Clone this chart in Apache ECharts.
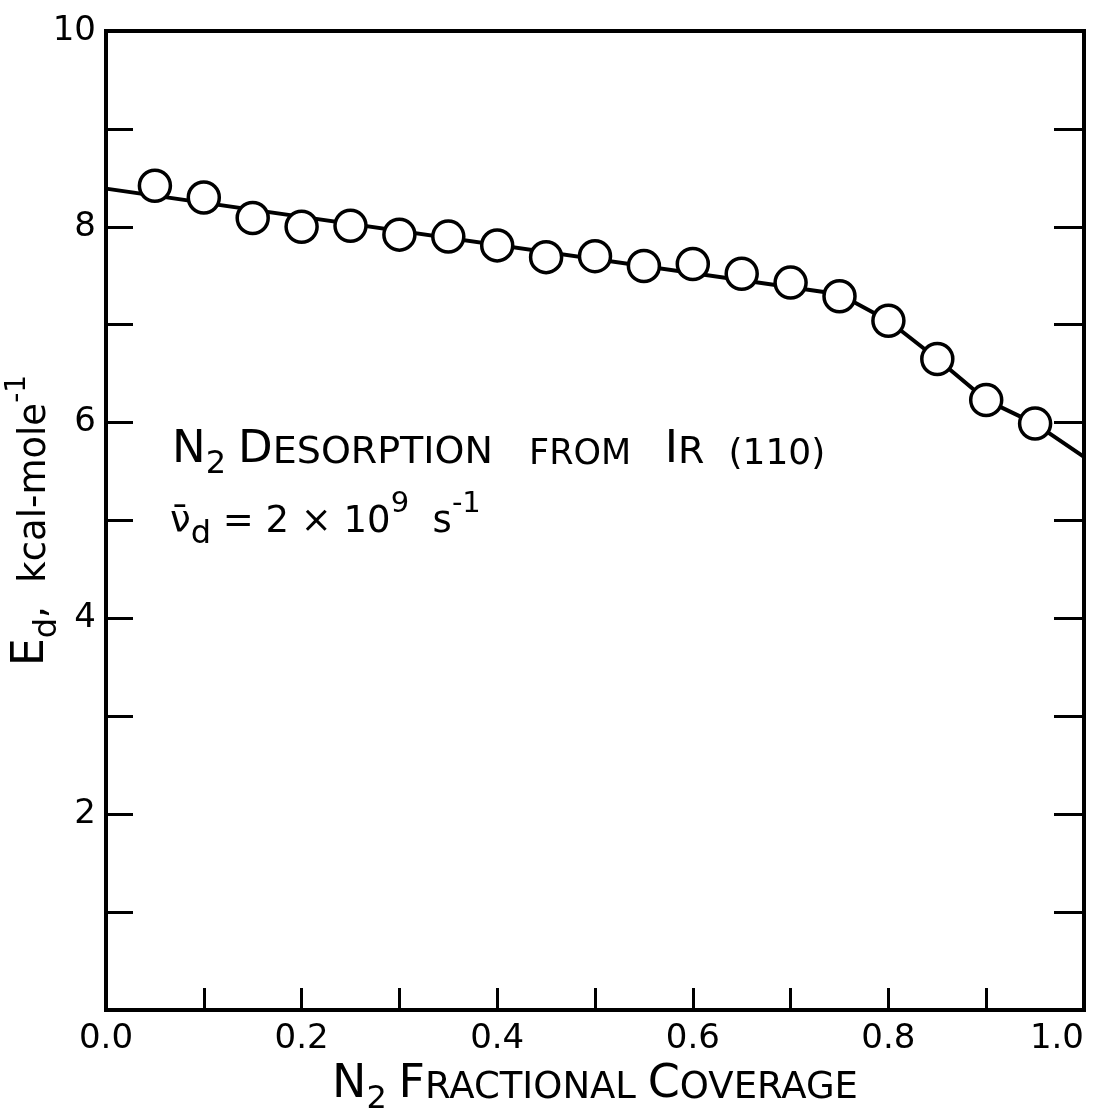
<!DOCTYPE html>
<html>
<head>
<meta charset="utf-8">
<script src="https://cdn.jsdelivr.net/npm/echarts@6/dist/echarts.min.js"></script>
<style>
  html, body { margin: 0; padding: 0; background: #fff; }
  #chart { width: 1102px; height: 1111px; }
</style>
</head>
<body>
<div id="chart"></div>
<script>
// measured points (N2 coverage vs desorption energy)
var coverage = [0.05, 0.10, 0.15, 0.20, 0.25, 0.30, 0.35, 0.40, 0.45, 0.50,
                0.55, 0.60, 0.65, 0.70, 0.75, 0.80, 0.85, 0.90, 0.95];
var energy = [8.42, 8.30, 8.09, 8.00, 8.01, 7.92, 7.90, 7.81, 7.69, 7.70,
              7.60, 7.62, 7.52, 7.43, 7.29, 7.04, 6.65, 6.23, 5.99];

// drawn curve through the data
var fitCoverage = [0, 0.75, 0.80, 0.85, 0.90, 0.95, 1.0];
var fitEnergy = [8.39, 7.31, 7.04, 6.65, 6.23, 5.99, 5.65];

var xTicks = ['0.0', '0.2', '0.4', '0.6', '0.8', '1.0'];
var yTicks = [2, 4, 6, 8, 10];

var font = 'DejaVu Sans';

function pairs(xs, ys) {
    return xs.map(function (x, i) { return [x, ys[i]]; });
}

function rs(size, padBottom) {
    return { fontSize: size, fontFamily: font, color: '#000', fill: '#000',
             verticalAlign: 'bottom', padding: [0, 0, padBottom || 0, 0] };
}

var option = {
    backgroundColor: '#fff',
    animation: false,
    grid: {
        left: 106, right: 18, top: 31, bottom: 101,
        outerBoundsMode: 'none',
        containLabel: false,
        show: true,
        borderColor: '#000',
        borderWidth: 4,
        backgroundColor: 'transparent'
    },
    xAxis: {
        type: 'value',
        min: 0, max: 1, interval: 0.1,
        axisLine: { show: false },
        splitLine: { show: false },
        axisTick: { inside: true, length: 22, lineStyle: { color: '#000', width: 3 } },
        axisLabel: {
            color: '#000', fontSize: 34, fontFamily: font, margin: 12,
            alignMaxLabel: 'right',
            formatter: function (v) {
                var s = v.toFixed(1);
                return xTicks.indexOf(s) >= 0 ? s : '';
            }
        },
        name: '{b|N}{sub|2}{sc| }{b|F}{sc|RACTIONAL }{b|C}{sc|OVERAGE}',
        nameLocation: 'middle',
        nameGap: 52,
        nameMoveOverlap: false,
        nameTextStyle: {
            color: '#000', fontFamily: font,
            rich: { b: rs(46, 8), sc: rs(37, 9), sub: rs(32, 0) }
        }
    },
    yAxis: [{
        type: 'value',
        min: 0, max: 10, interval: 1,
        axisLine: { show: false },
        splitLine: { show: false },
        axisTick: { inside: true, length: 27, lineStyle: { color: '#000', width: 3 } },
        axisLabel: {
            color: '#000', fontSize: 34, fontFamily: font, margin: 10,
            formatter: function (v) {
                return yTicks.indexOf(v) >= 0 ? String(v) : '';
            }
        },
        name: '{b|E}{sub|d}{t|,  kcal-mole}{sup|-1}',
        nameLocation: 'middle',
        nameRotate: 90,
        nameGap: 42,
        nameMoveOverlap: false,
        nameTextStyle: {
            color: '#000', fontFamily: font,
            rich: { b: rs(44, 10), t: rs(37, 10), sub: rs(32, 0), sup: rs(28, 32) }
        }
    }, {
        type: 'value',
        position: 'right',
        min: 0, max: 10, interval: 1,
        axisLine: { show: false },
        splitLine: { show: false },
        axisTick: { inside: true, length: 30, lineStyle: { color: '#000', width: 3 } },
        axisLabel: { show: false }
    }],
    graphic: [{
        type: 'text',
        left: 172, top: 428,
        style: {
            text: '{b|N}{sub|2}{sc| }{b|D}{sc|ESORPTION   }{f|FROM   }{b|I}{sc|R  }{p|(110)}',
            fill: '#000',
            rich: { b: rs(45, 8), sc: rs(38, 9), f: rs(35, 9), p: rs(36, 8), sub: rs(32, 0) }
        }
    }, {
        type: 'text',
        left: 170, top: 490,
        style: {
            text: '{b|\u03BD\u0304}{sub|d}{b| = 2 \u00D7 10}{sup|9}{b|  s}{sup|-1}',
            fill: '#000',
            rich: { b: rs(37, 10), sub: rs(32, 0), sup: rs(29, 32) }
        }
    }],
    series: [{
        name: 'fit',
        type: 'line',
        data: pairs(fitCoverage, fitEnergy),
        showSymbol: false,
        symbol: 'none',
        lineStyle: { color: '#000', width: 4 },
        z: 2
    }, {
        name: 'Ed',
        type: 'scatter',
        data: pairs(coverage, energy),
        symbol: 'circle',
        symbolSize: 31,
        itemStyle: { color: '#fff', borderColor: '#000', borderWidth: 3.5, opacity: 1 },
        z: 3
    }]
};

var chart = echarts.init(document.getElementById('chart'));
chart.setOption(option);
</script>
</body>
</html>
